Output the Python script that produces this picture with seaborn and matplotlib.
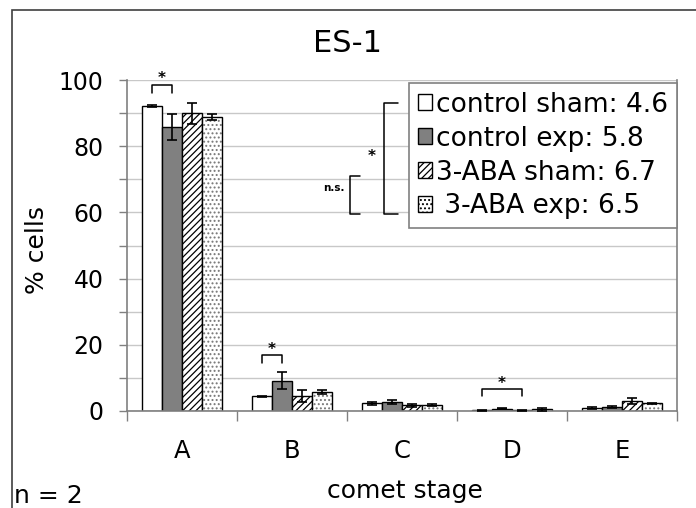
import numpy as np
import pandas as pd
import matplotlib
matplotlib.use("Agg")
import matplotlib.pyplot as plt
import seaborn as sns
from matplotlib.patches import Patch, Rectangle

# ---- data ----
stages = ["A", "B", "C", "D", "E"]
groups = ["control sham", "control exp", "3-ABA sham", "3-ABA exp"]
legend_labels = ["control sham: 4.6", "control exp: 5.8", "3-ABA sham: 6.7", " 3-ABA exp: 6.5"]
control_sham = [92.0, 4.4, 2.3, 0.2, 0.8]
control_exp = [85.8, 9.2, 2.7, 0.7, 1.2]
aba_sham = [89.9, 4.5, 1.7, 0.2, 3.0]
aba_exp = [88.8, 5.7, 1.8, 0.5, 2.3]
err_control_sham = [0.3, 0.2, 0.5, 0.1, 0.3]
err_control_exp = [3.8, 2.7, 0.6, 0.2, 0.3]
err_aba_sham = [3.3, 1.9, 0.5, 0.1, 0.9]
err_aba_exp = [1.0, 0.5, 0.2, 0.4, 0.2]
yticks = [0, 20, 40, 60, 80, 100]
title = "ES-1"
ylabel = "% cells"
xlabel = "comet stage"
note = "n = 2"
# significance brackets: (stage index, group i, group j)
sig_pairs = [(0, 0, 1), (1, 0, 1), (3, 0, 2)]

values = [control_sham, control_exp, aba_sham, aba_exp]
errors = [err_control_sham, err_control_exp, err_aba_sham, err_aba_exp]

df = pd.DataFrame({
    "stage": np.tile(stages, len(groups)),
    "group": np.repeat(groups, len(stages)),
    "value": np.concatenate(values),
})

sns.set_style("white")
plt.rcParams["font.family"] = ["DejaVu Sans"]
plt.rcParams["hatch.linewidth"] = 0.9
plt.rcParams["text.color"] = "black"
plt.rcParams["xtick.labelcolor"] = "black"
plt.rcParams["ytick.labelcolor"] = "black"

W, H = 696, 508
fig = plt.figure(figsize=(W / 100, H / 100), dpi=100)
ax = fig.add_axes([127 / W, 1 - 411 / H, 550 / W, 331 / H])

facecolors = ["white", "#808080", "white", "white"]
hatches = [None, None, "/////", "...."]
hatch_edge = ["black", "black", "black", "#777777"]

sns.barplot(data=df, x="stage", y="value", hue="group", order=stages,
            hue_order=groups, palette=facecolors, edgecolor="black",
            linewidth=1.0, width=0.73, errorbar=None, legend=False,
            saturation=1, ax=ax)

bars = list(ax.containers)
for i, cont in enumerate(bars):
    for p in cont:
        if hatches[i]:
            p.set_hatch(hatches[i])
            if hatch_edge[i] != "black":
                p.set_edgecolor(hatch_edge[i])
                p.set_linewidth(0)
                outline = Rectangle(p.get_xy(), p.get_width(), p.get_height(),
                                    fill=False, edgecolor="black", lw=1.0,
                                    zorder=p.get_zorder() + 0.1)
                ax.add_patch(outline)
    xs = [p.get_x() + p.get_width() / 2 for p in cont]
    ys = [p.get_height() for p in cont]
    ax.errorbar(xs, ys, yerr=errors[i], fmt="none", ecolor="black",
                elinewidth=1.2, capsize=3.5, capthick=1.2, zorder=5)

ax.set_xlim(-0.5, 4.5)
ax.set_ylim(0, 100)
ax.set_yticks(yticks)
ax.set_yticks([10, 30, 50, 70, 90], minor=True)
ax.set_xticks(range(len(stages)))
ax.set_xticklabels(stages)
ax.set_xticks([k - 0.5 for k in range(len(stages) + 1)], minor=True)
ax.tick_params(axis="y", which="both", length=6, width=1, color="#808080",
               direction="out", labelsize=17, pad=11, left=True,
               labelcolor="black")
ax.tick_params(axis="x", which="major", length=0, labelsize=17.5, pad=20,
               labelcolor="black")
ax.tick_params(axis="x", which="minor", length=7, width=1, color="#808080",
               direction="out", bottom=True)
ax.yaxis.grid(True, which="both", color="#c8c8c8", lw=1)
ax.set_axisbelow(True)
for s in ["left", "bottom", "right"]:
    ax.spines[s].set_color("#808080")
    ax.spines[s].set_linewidth(1.2)
ax.spines["top"].set_visible(False)
ax.set_xlabel("")
ax.set_ylabel("")

# significance brackets over bars
br = [(98.4, 96.0, 100.6), (16.8, 14.4, 18.6), (6.7, 4.4, 8.4)]
for (k, gi, gj), (top, bot, st) in zip(sig_pairs, br):
    x1 = bars[gi][k].get_x() + bars[gi][k].get_width() / 2
    x2 = bars[gj][k].get_x() + bars[gj][k].get_width() / 2
    ax.plot([x1, x1, x2, x2], [bot, top, top, bot], color="black", lw=1.1,
            clip_on=False, zorder=6)
    ax.text((x1 + x2) / 2, st, "*", ha="center", va="center", fontsize=11,
            fontweight="bold", clip_on=False, color="black")

# brackets next to legend
ax.plot([1.62, 1.53, 1.53, 1.62], [70.9, 70.9, 59.4, 59.4], color="black", lw=1.1)
ax.text(1.48, 67.5, "n.s.", ha="right", va="center", fontsize=7.5,
        fontweight="bold", color="black")
ax.plot([1.96, 1.84, 1.84, 1.96], [93.1, 93.1, 59.4, 59.4], color="black", lw=1.1)
ax.text(1.72, 77.0, "*", ha="center", va="center", fontsize=11,
        fontweight="bold", color="black")

handles = [Patch(facecolor=facecolors[i], edgecolor="black",
                 hatch=hatches[i], label=legend_labels[i])
           for i in range(len(groups))]
leg = ax.legend(handles=handles, loc="upper right", bbox_to_anchor=(1.0, 0.991),
                borderaxespad=0, frameon=True, fancybox=False, framealpha=1,
                edgecolor="#808080", fontsize=19, handlelength=0.55,
                handleheight=0.55, handletextpad=0.15, labelspacing=0.3,
                borderpad=0.33, labelcolor="black")
leg.get_frame().set_linewidth(1.2)

fig.text(0.5, 1 - 44 / H, title, ha="center", va="center", fontsize=22, color="black")
fig.text(37 / W, 1 - 250 / H, ylabel, ha="center", va="center", rotation=90,
         fontsize=18, color="black")
fig.text(405 / W, 1 - 498 / H, xlabel, ha="center", va="baseline", fontsize=18,
         color="black")
fig.text(14 / W, 1 - 503 / H, note, ha="left", va="baseline", fontsize=18,
         color="black")

fig.add_artist(Rectangle((12 / W, -0.1), 1.2, 1 - 10 / H + 0.1,
                         transform=fig.transFigure, fill=False,
                         edgecolor="#404040", lw=1.2))

fig.savefig("out.png", dpi=100)
